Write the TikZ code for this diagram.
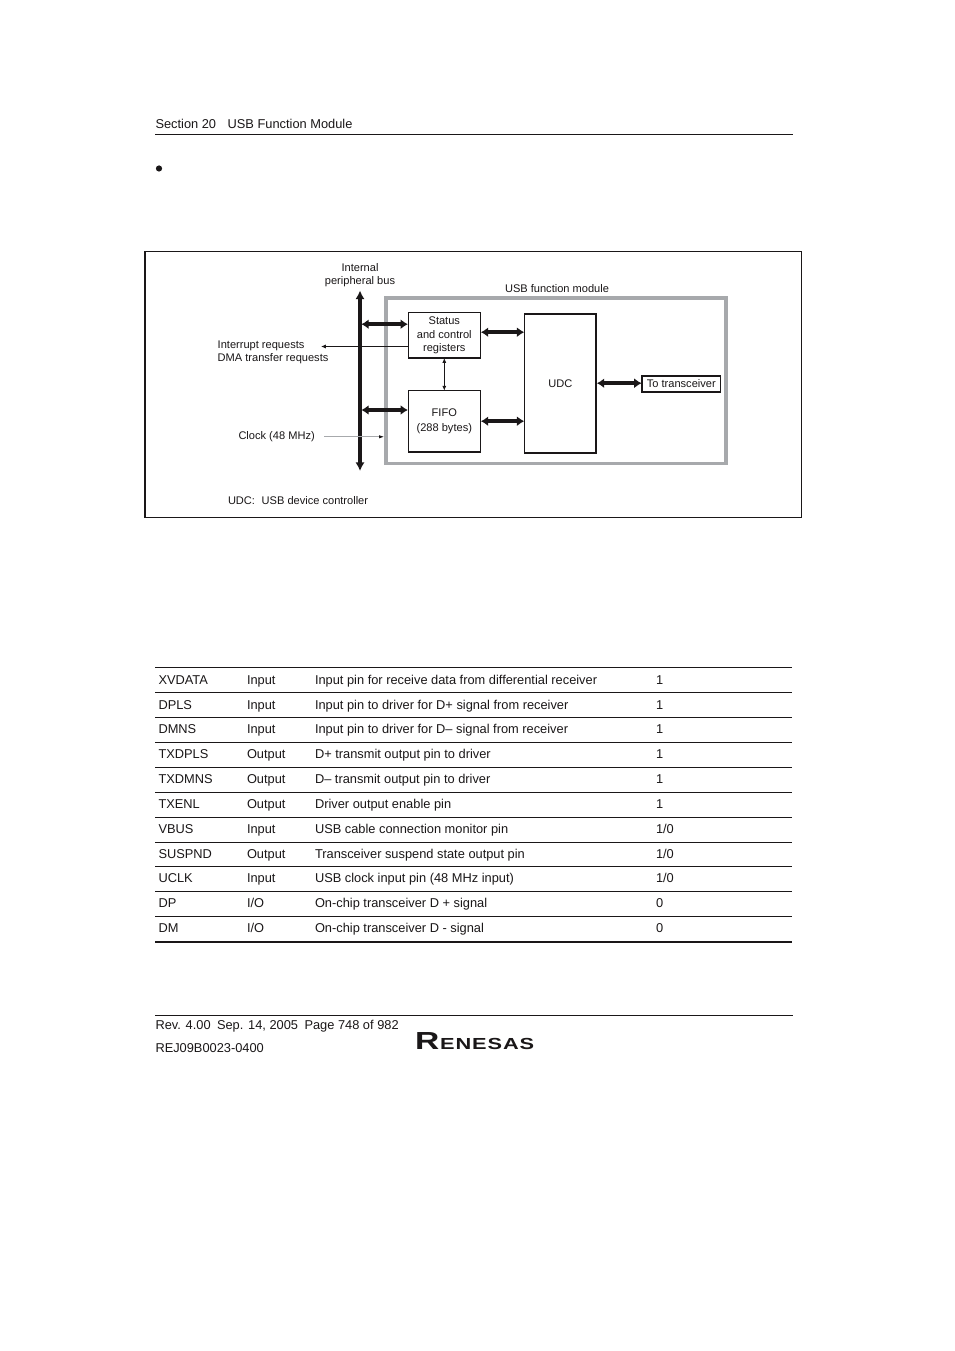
\documentclass[tikz,border=0pt]{standalone}
\usepackage{fontspec}
\setmainfont{Liberation Sans}
\usetikzlibrary{arrows.meta}
\definecolor{modgray}{HTML}{A7A9AC}
\definecolor{ink}{HTML}{1A1718}
\tikzset{
  x=0.75pt,y=-0.75pt,
  every node/.style={text=ink,inner sep=0pt,outer sep=0pt,font=\fontsize{8.3pt}{10.1pt}\selectfont},
  pagetext/.style={anchor=base west,font=\fontsize{9.62pt}{11pt}\selectfont},
  diatext/.style={align=center},
  blockbox/.style={draw=ink,line width=1.1pt,fill=white,align=center},
  rule/.style={draw=ink,line width=0.75pt},
  fatlink/.style={draw=ink,line width=2.6pt,{Latex[length=5.5pt,width=7.5pt]}-{Latex[length=5.5pt,width=7.5pt]},shorten <=0.3pt,shorten >=0.3pt},
  thinlink/.style={draw=ink,line width=0.6pt,{Latex[length=3.6pt,width=3pt]}-{Latex[length=3.6pt,width=3pt]}},
  sigline/.style={draw=ink,line width=0.6pt,-{Latex[length=3.6pt,width=3pt]}},
}
\newcommand{\tabrow}[5]{%
  \node[pagetext] (n#1) at (158.5,#2) {#3};
  \node[pagetext] (d#1) at (247,#2) {#4};
  \node[pagetext] (f#1) at (315,#2) {#5};
}
\begin{document}
\begin{tikzpicture}
\useasboundingbox (0,0) rectangle (954,1351);
\fill[white] (0,0) rectangle (954,1351);

% page header
\node[pagetext] (head) at (155.5,128.5) {Section 20\hspace{0.9em}USB Function Module};
\draw[rule] (155,134.5) -- (793,134.5);
\fill[ink] (159,168.5) circle (3.1);

% figure frame
\draw[draw=ink,line width=0.85pt] (145,251.5) rectangle (801.5,517.5);

% module
\draw[draw=modgray,line width=2.7pt] (386,298) rectangle (726,463.5);
\node[anchor=base] (modlabel) at (557,292.5) {USB function module};

% blocks
\node[blockbox,minimum width=54pt,minimum height=34pt] (status) at (444.3,335.3) {Status\\and control\\registers};
\node[blockbox,minimum width=54pt,minimum height=46pt,font=\fontsize{8.3pt}{10.6pt}\selectfont] (fifo) at (444.3,421.3) {FIFO\\(288 bytes)};
\node[blockbox,minimum width=53.5pt,minimum height=104.5pt] (udc) at (560.3,383.5) {UDC};
\node[blockbox,minimum width=59pt,minimum height=12pt] (trans) at (681.3,384) {To transceiver};

% bus
\coordinate (bustop) at (360,290.5);
\coordinate (busbot) at (360,471);
\draw[draw=ink,line width=3.1pt,{Latex[length=6.5pt,width=7pt]}-{Latex[length=6.5pt,width=7pt]}] (bustop) -- (busbot);
\node[diatext] (buslabel) at (360,275) {Internal\\peripheral bus};

% links
\coordinate (b1) at (361,324.2);
\coordinate (b2) at (361,410);
\draw[fatlink] (b1) -- (b1 -| status.west);
\draw[fatlink] (b2) -- (b2 -| fifo.west);
\coordinate (s1) at (480.5,332.2);
\coordinate (s2) at (480.5,421.2);
\draw[fatlink] (s1) -- (s1 -| udc.west);
\draw[fatlink] (s2) -- (s2 -| udc.west);
\coordinate (s3) at (596.5,383.2);
\draw[fatlink] (s3) -- (s3 -| trans.west);
\draw[thinlink] (status.south) -- (fifo.north);

% signals
\node[anchor=base west] (irq) at (217.7,348.5) {Interrupt requests};
\node[anchor=base west] (dma) at (217.7,361.5) {DMA transfer requests};
\coordinate (irqend) at (321,346.5);
\draw[sigline] (irqend -| status.west) -- (irqend);
\node[anchor=base west] (clk) at (238.5,439.5) {Clock (48 MHz)};
\coordinate (clkstart) at (324,436.8);
\coordinate (clkend) at (383,436.8);
\draw[draw=modgray,line width=0.7pt] (clkstart) -- (clkend);
\draw[draw=none,fill=ink] (383.5,436.8) -- (379,435.2) -- (379,438.4) -- cycle;
\node[anchor=base west] (note) at (228,504.3) {UDC:\hspace{0.6em}USB device controller};

% table
\draw[rule] (155,667.5) -- (792,667.5);
\foreach \y in {692.5,717.5,742.5,767.5,792.5,817.5,842,866.5,891.5,916.5} \draw[rule] (155,\y) -- (792,\y);
\draw[draw=ink,line width=1.2pt] (155,942) -- (792,942);
\tabrow{1}{684}{XVDATA}{Input}{Input pin for receive data from differential receiver}
\tabrow{2}{709}{DPLS}{Input}{Input pin to driver for D+ signal from receiver}
\tabrow{3}{733.5}{DMNS}{Input}{Input pin to driver for D– signal from receiver}
\tabrow{4}{758.5}{TXDPLS}{Output}{D+ transmit output pin to driver}
\tabrow{5}{783.5}{TXDMNS}{Output}{D– transmit output pin to driver}
\tabrow{6}{808.5}{TXENL}{Output}{Driver output enable pin}
\tabrow{7}{833.5}{VBUS}{Input}{USB cable connection monitor pin}
\tabrow{8}{858.5}{SUSPND}{Output}{Transceiver suspend state output pin}
\tabrow{9}{882.5}{UCLK}{Input}{USB clock input pin (48 MHz input)}
\tabrow{10}{907.5}{DP}{I/O}{On-chip transceiver D + signal}
\tabrow{11}{932.5}{DM}{I/O}{On-chip transceiver D - signal}
\node[pagetext] (c1) at (656,684) {1};
\node[pagetext] (c2) at (656,709) {1};
\node[pagetext] (c3) at (656,733.5) {1};
\node[pagetext] (c4) at (656,758.5) {1};
\node[pagetext] (c5) at (656,783.5) {1};
\node[pagetext] (c6) at (656,808.5) {1};
\node[pagetext] (c7) at (656,833.5) {1/0};
\node[pagetext] (c8) at (656,858.5) {1/0};
\node[pagetext] (c9) at (656,882.5) {1/0};
\node[pagetext] (c10) at (656,907.5) {0};
\node[pagetext] (c11) at (656,932.5) {0};

% footer
\draw[rule] (155,1015.5) -- (793,1015.5);
\node[pagetext] (rev) at (155.5,1029.5) {Rev. 4.00\hspace{0.5em}Sep. 14, 2005\hspace{0.5em}Page 748 of 982};
\node[pagetext] (rej) at (155.5,1052) {REJ09B0023-0400};
\node[anchor=base west,xscale=1.36,font=\bfseries] (logo) at (415,1049.5) {\fontsize{18.5pt}{18pt}\selectfont R\fontsize{12pt}{15pt}\selectfont\hspace{0.5pt}E\hspace{0.5pt}N\hspace{0.5pt}E\hspace{0.5pt}S\hspace{0.5pt}A\hspace{0.5pt}S};
\end{tikzpicture}
\end{document}
